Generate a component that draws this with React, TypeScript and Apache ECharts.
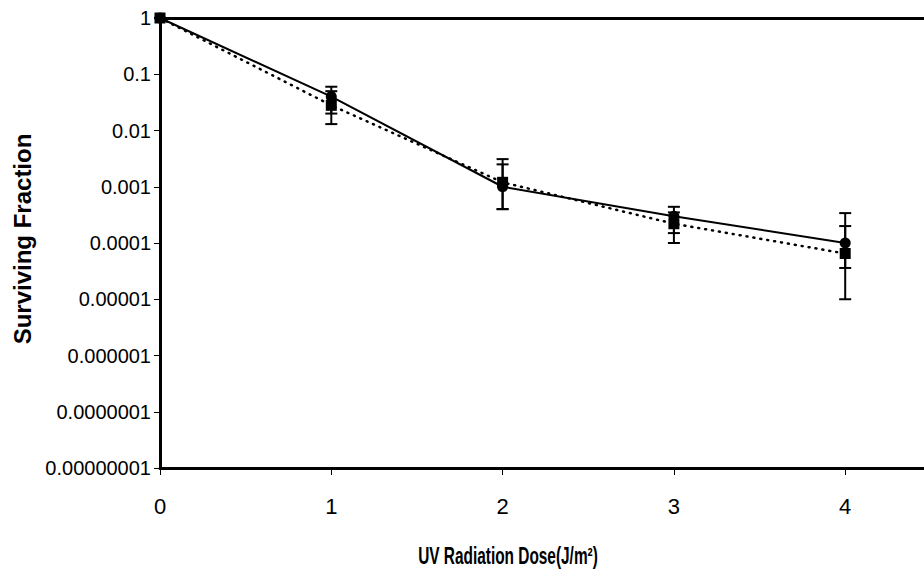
import React, { useEffect, useRef } from "react";
import * as echarts from "echarts";

const doses = [0, 1, 2, 3, 4];
const solidValues = [1, 0.04, 0.001, 0.0003, 0.0001];
const solidLow = [1, 0.02, 0.0004, 0.00015, 0.000036];
const solidHigh = [1, 0.06, 0.0025, 0.00044, 0.00034];
const dottedValues = [1, 0.028, 0.0012, 0.00022, 0.000065];
const dottedLow = [1, 0.013, 0.0004, 0.0001, 0.00001];
const dottedHigh = [1, 0.05, 0.0031, 0.00035, 0.0002];
const xTickLabels = ["0", "1", "2", "3", "4"];
const yTickLabels = ["0.00000001", "0.0000001", "0.000001", "0.00001", "0.0001", "0.001", "0.01", "0.1", "1"];
const xTitle = "UV Radiation Dose(J/m²)";
const yTitle = "Surviving Fraction";

const FONT = "'Liberation Sans', Arial, sans-serif";

function errorSeries(low: number[], high: number[]) {
  return {
    type: "custom",
    data: doses.map((d, i) => [d, low[i], high[i]]),
    encode: { x: 0, y: [1, 2] },
    z: 5,
    renderItem: (params: any, api: any) => {
      const x = api.value(0);
      const lo = api.coord([x, api.value(1)]);
      const hi = api.coord([x, api.value(2)]);
      const w = 6;
      const style = { stroke: "#000", lineWidth: 2 };
      return {
        type: "group",
        children: [
          { type: "line", shape: { x1: lo[0], y1: lo[1], x2: hi[0], y2: hi[1] }, style },
          { type: "line", shape: { x1: lo[0] - w, y1: lo[1], x2: lo[0] + w, y2: lo[1] }, style },
          { type: "line", shape: { x1: hi[0] - w, y1: hi[1], x2: hi[0] + w, y2: hi[1] }, style },
        ],
      };
    },
  };
}

export default function App() {
  const ref = useRef<HTMLDivElement>(null);
  useEffect(() => {
    if (!ref.current) return;
    const chart = echarts.init(ref.current, null, { renderer: "svg" });
    const fmtY = (v: number) => {
      const idx = Math.round(Math.log10(v)) + 8;
      return yTickLabels[idx] ?? "";
    };
    chart.setOption({
      animation: false,
      backgroundColor: "#fff",
      grid: { left: 160, top: 18, right: 0, bottom: 104 },
      graphic: [
        {
          type: "text",
          x: 508,
          y: 556,
          scaleX: 0.67,
          style: {
            text: xTitle,
            font: `bold 23px ${FONT}`,
            fill: "#000",
            textAlign: "center",
            textVerticalAlign: "middle",
          },
        },
      ],
      xAxis: [
        {
          type: "value",
          min: 0,
          max: 4.46,
          interval: 1,
          position: "bottom",
          axisLine: { show: true, onZero: false, lineStyle: { color: "#000", width: 3 } },
          axisTick: { show: true, length: 7, lineStyle: { color: "#000", width: 1 } },
          axisLabel: {
            showMaxLabel: false,
            margin: 27,
            fontFamily: FONT,
            fontSize: 22,
            color: "#000",
            formatter: (v: number) => (Number.isInteger(v) ? xTickLabels[v] ?? "" : ""),
          },
          splitLine: { show: false },
        },
        {
          type: "value",
          min: 0,
          max: 4.46,
          interval: 1,
          position: "top",
          axisLine: { show: true, onZero: false, lineStyle: { color: "#000", width: 3 } },
          axisTick: { show: false },
          axisLabel: { show: false },
          splitLine: { show: false },
        },
      ],
      yAxis: {
        type: "log",
        logBase: 10,
        min: 1e-8,
        max: 1,
        name: yTitle,
        nameLocation: "middle",
        nameGap: 124,
        nameTextStyle: { fontFamily: FONT, fontSize: 24, fontWeight: "bold", color: "#000", padding: [0, 0, 0, 8] },
        axisLine: { show: true, lineStyle: { color: "#000", width: 3 } },
        axisTick: { show: true, length: 6, lineStyle: { color: "#000", width: 1 } },
        axisLabel: { margin: 9, fontFamily: FONT, fontSize: 20, color: "#000", formatter: fmtY },
        splitLine: { show: false },
      },
      series: [
        errorSeries(solidLow, solidHigh),
        errorSeries(dottedLow, dottedHigh),
        {
          type: "line",
          data: doses.map((d, i) => [d, dottedValues[i]]),
          symbol: "rect",
          symbolSize: 11,
          itemStyle: { color: "#000" },
          lineStyle: { color: "#000", width: 2.5, type: [1, 6], cap: "round" },
          z: 6,
        },
        {
          type: "line",
          data: doses.map((d, i) => [d, solidValues[i]]),
          symbol: "circle",
          symbolSize: 11,
          itemStyle: { color: "#000" },
          lineStyle: { color: "#000", width: 2 },
          z: 7,
        },
      ],
    });
    return () => chart.dispose();
  }, []);
  return <div ref={ref} style={{ position: "fixed", left: 0, top: 0, width: 924, height: 572 }} />;
}
